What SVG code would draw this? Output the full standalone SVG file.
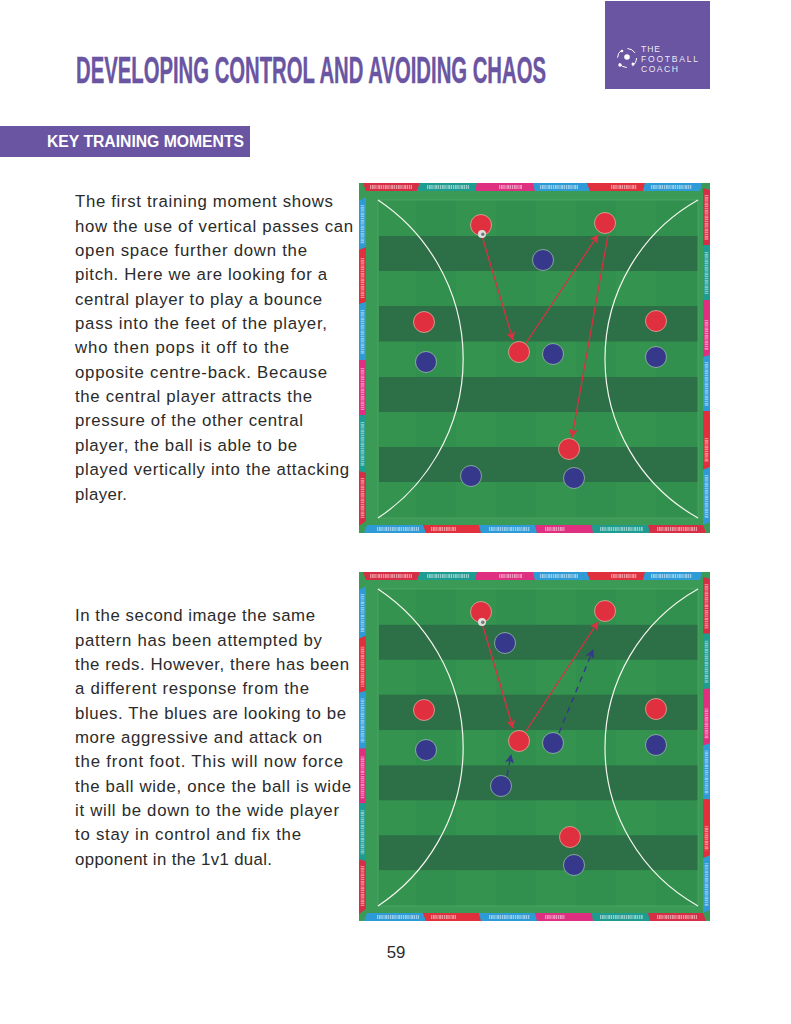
<svg xmlns="http://www.w3.org/2000/svg" xmlns:xlink="http://www.w3.org/1999/xlink" width="791" height="1024" viewBox="0 0 791 1024">
<style>
.body{font-family:"Liberation Sans",Arial,sans-serif;font-size:16.800px;fill:#2b2b2b}
.red{fill:#e0303f;stroke:#e8b9a8;stroke-width:.7}
.blue{fill:#36388b;stroke:#a9c6b4;stroke-width:.7}
.rl{stroke:#dc3040;stroke-width:1.3;fill:none;marker-end:url(#ra)}
.bl{stroke:#36388b;stroke-width:1.400;fill:none;stroke-dasharray:6 5;marker-end:url(#ba)}
.tx{stroke:#fff;stroke-width:4;stroke-dasharray:1 .7 2 .6 1.4 .8;opacity:.5;fill:none}
.tv{stroke:#fff;stroke-width:3.600;stroke-dasharray:1 .7 2 .6 1.4 .8;opacity:.45;fill:none}
.arc{stroke:#f4f7ee;stroke-width:1.200;fill:none}
</style>
<defs>
<marker id="ra" viewBox="0 0 10 10" refX="9" refY="5" markerUnits="userSpaceOnUse" markerWidth="9" markerHeight="9" orient="auto"><path d="M0 0L10 5L0 10L2.500 5Z" fill="#dc3040"/></marker>
<marker id="ba" viewBox="0 0 10 10" refX="9" refY="5" markerUnits="userSpaceOnUse" markerWidth="9" markerHeight="9" orient="auto"><path d="M0 0L10 5L0 10L2.500 5Z" fill="#36388b"/></marker>
<g id="ball"><circle r="4" fill="#dfe1dd"/><circle cx=".8" cy=".3" r="1.700" fill="#77777f"/></g>
<g id="pitch">
<rect x="359" y="183" width="351" height="350" fill="#3b9a56"/>
<rect x="378" y="200" width="320" height="318" fill="#33934f"/>
<g fill="#2f8a4c" opacity=".3"><rect x="416" y="200" width="40" height="318"/><rect x="496" y="200" width="40" height="318"/><rect x="576" y="200" width="40" height="318"/><rect x="656" y="200" width="42" height="318"/></g>
<g fill="#2d6f47"><rect x="379" y="236" width="319" height="35"/><rect x="379" y="306" width="319" height="35.500"/><rect x="379" y="377" width="319" height="35"/><rect x="379" y="447" width="319" height="35"/></g>
<rect x="378" y="200" width="320" height="318" fill="none" stroke="#57aa6c" stroke-width=".7"/>
<g>
<path fill="#d62f45" d="M363 183H420L417 191H366Z"/><path fill="#1f9c92" d="M420 183H477L475 191H417Z"/><path fill="#df2f80" d="M477 183H533L535 191H475Z"/><path fill="#2f9bd6" d="M533 183H587L590 191H535Z"/><path fill="#e02f3d" d="M587 183H645L643 191H590Z"/><path fill="#2f9bd6" d="M645 183H702L700 191H643Z"/>
<path fill="#2f9bd6" d="M359 201L366 197V247L359 250Z"/><path fill="#e02f3d" d="M359 250L366 247V302L359 304Z"/><path fill="#2f9bd6" d="M359 304L366 302V360L359 360Z"/><path fill="#df2f80" d="M359 360H366V415H359Z"/><path fill="#1f9c92" d="M359 415H366V473L359 471Z"/><path fill="#d62f45" d="M359 471L366 473V521L359 526Z"/>
<path fill="#d62f45" d="M710 190L703 188V245L710 245Z"/><path fill="#1f9c92" d="M703 245H710V300L703 300Z"/><path fill="#df2f80" d="M703 300H710V355L703 357Z"/><path fill="#2f9bd6" d="M703 357L710 355V411L703 411Z"/><path fill="#e02f3d" d="M703 411H710V467L703 470Z"/><path fill="#2f9bd6" d="M703 470L710 467V522L703 525Z"/>
<path fill="#2f9bd6" d="M367 525H423L426 533H364Z"/><path fill="#e02f3d" d="M423 525H479L481 533H426Z"/><path fill="#2f9bd6" d="M479 525H535L537 533H481Z"/><path fill="#df2f80" d="M535 525H592L593 533H537Z"/><path fill="#1f9c92" d="M592 525H648L650 533H593Z"/><path fill="#d62f45" d="M648 525H703L706 533H650Z"/>
</g>
<path class="tx" d="M370 187H412M427 187H469M499 187H522M540 187H578M611 187H637M651 187H692M377 529H419M431 529H456M489 529H530M545 529H565M600 529H643M657 529H697"/>
<path class="tv" d="M362.500 205V244M362.500 258V298M362.500 310V354M362.500 368V410M362.500 422V466M362.500 478V518M706.500 195V240M706.500 252V294M706.500 320V350M706.500 362V406M706.500 438V462M706.500 475V518"/>
<path class="arc" d="M378 200A191 191 0 0 1 378 518"/>
<path class="arc" d="M698 200A182.400 182.400 0 0 0 698 518"/>
</g>
</defs>
<rect width="791" height="1024" fill="#fff"/>
<g id="header">
<text id="title" transform="translate(76 83) scale(.62 1)" font-family="'Liberation Sans',sans-serif" font-weight="700" font-size="36" fill="#6a55a2" stroke="#6a55a2" stroke-width=".4" textLength="758" lengthAdjust="spacingAndGlyphs">DEVELOPING CONTROL AND AVOIDING CHAOS</text>
<g id="logo">
<rect x="605" y="1" width="105" height="88" fill="#6a55a2"/>
<circle cx="627" cy="58" r="9.500" fill="none" stroke="#fff" stroke-width="1" stroke-dasharray="9 6"/>
<g fill="#fff"><circle cx="627" cy="57" r="2.800"/><circle cx="620" cy="65" r="1.700"/><circle cx="633" cy="64" r="1.500"/><circle cx="622" cy="51" r="1.300"/></g>
<g font-family="'Liberation Sans',sans-serif" font-size="8.600" fill="#fff" fill-opacity=".9"><text x="641" y="52" textLength="19">THE</text><text x="641" y="62" textLength="57">FOOTBALL</text><text x="641" y="72" textLength="37">COACH</text></g>
</g>
<g id="section"><rect x="0" y="126" width="250" height="31" fill="#6a55a2"/><text x="47" y="147" font-family="'Liberation Sans',sans-serif" font-weight="700" font-size="16" fill="#fff" textLength="197" lengthAdjust="spacingAndGlyphs">KEY TRAINING MOMENTS</text></g>
</g>
<g id="text-1" class="body">
<text x="75" y="207" textLength="258">The first training moment shows</text>
<text x="75" y="232" textLength="278">how the use of vertical passes can</text>
<text x="75" y="256" textLength="232">open space further down the</text>
<text x="75" y="280" textLength="252">pitch. Here we are looking for a</text>
<text x="75" y="305" textLength="247">central player to play a bounce</text>
<text x="75" y="329" textLength="252">pass into the feet of the player,</text>
<text x="75" y="353" textLength="214">who then pops it off to the</text>
<text x="75" y="378" textLength="252">opposite centre-back. Because</text>
<text x="75" y="402" textLength="237">the central player attracts the</text>
<text x="75" y="426" textLength="228">pressure of the other central</text>
<text x="75" y="451" textLength="222">player, the ball is able to be</text>
<text x="75" y="475" textLength="274">played vertically into the attacking</text>
<text x="75" y="500" textLength="52">player.</text>
</g>
<g id="text-2" class="body">
<text x="75" y="621" textLength="240">In the second image the same</text>
<text x="75" y="646" textLength="247">pattern has been attempted by</text>
<text x="75" y="670" textLength="274">the reds. However, there has been</text>
<text x="75" y="694" textLength="234">a different response from the</text>
<text x="75" y="719" textLength="271">blues. The blues are looking to be</text>
<text x="75" y="743" textLength="247">more aggressive and attack on</text>
<text x="75" y="767" textLength="268">the front foot. This will now force</text>
<text x="75" y="792" textLength="276">the ball wide, once the ball is wide</text>
<text x="75" y="816" textLength="264">it will be down to the wide player</text>
<text x="75" y="840" textLength="226">to stay in control and fix the</text>
<text x="75" y="865" textLength="197">opponent in the 1v1 dual.</text>
</g>
<use href="#pitch" xlink:href="#pitch"/>
<use href="#pitch" xlink:href="#pitch" transform="matrix(1 0 0 .997 0 389.550)"/>
<g id="connectors">
<path class="rl" d="M482 236L513 340"/>
<path class="rl" d="M526 343L598 235"/>
<path class="rl" d="M608 235L572 437"/>
<path class="rl" d="M482 623L513 728"/>
<path class="rl" d="M526 731L598 622"/>
<path class="bl" d="M559 733L593 650"/>
<path class="bl" d="M507 776L511 755"/>
</g>
<g id="players-1">
<circle id="p1-r1" class="red" cx="481" cy="225" r="10.500"/><circle id="p1-r2" class="red" cx="605" cy="223" r="10.500"/><circle id="p1-r3" class="red" cx="424" cy="322" r="10.500"/><circle id="p1-r4" class="red" cx="656" cy="321" r="10.500"/><circle id="p1-r5" class="red" cx="519" cy="352" r="10.500"/><circle id="p1-r6" class="red" cx="569" cy="449" r="10.500"/>
<circle id="p1-b1" class="blue" cx="543" cy="260" r="10.500"/><circle id="p1-b2" class="blue" cx="426" cy="362" r="10.500"/><circle id="p1-b3" class="blue" cx="553" cy="354" r="10.500"/><circle id="p1-b4" class="blue" cx="656" cy="357" r="10.500"/><circle id="p1-b5" class="blue" cx="471" cy="476" r="10.500"/><circle id="p1-b6" class="blue" cx="574" cy="478" r="10.500"/>
<use href="#ball" xlink:href="#ball" x="482" y="234"/>
</g>
<g id="players-2">
<circle id="p2-r1" class="red" cx="481" cy="612" r="10.500"/><circle id="p2-r2" class="red" cx="605" cy="611" r="10.500"/><circle id="p2-r3" class="red" cx="424" cy="710" r="10.500"/><circle id="p2-r4" class="red" cx="656" cy="709" r="10.500"/><circle id="p2-r5" class="red" cx="519" cy="741" r="10.500"/><circle id="p2-r6" class="red" cx="570" cy="837" r="10.500"/>
<circle id="p2-b1" class="blue" cx="505" cy="643" r="10.500"/><circle id="p2-b2" class="blue" cx="426" cy="750" r="10.500"/><circle id="p2-b3" class="blue" cx="553" cy="743" r="10.500"/><circle id="p2-b4" class="blue" cx="656" cy="745" r="10.500"/><circle id="p2-b5" class="blue" cx="501" cy="786" r="10.500"/><circle id="p2-b6" class="blue" cx="574" cy="865" r="10.500"/>
<use href="#ball" xlink:href="#ball" x="482" y="622"/>
</g>
<text id="page-number" x="396" y="958" text-anchor="middle" font-family="'Liberation Sans',sans-serif" font-size="16.800" fill="#2b2b2b">59</text>
</svg>
